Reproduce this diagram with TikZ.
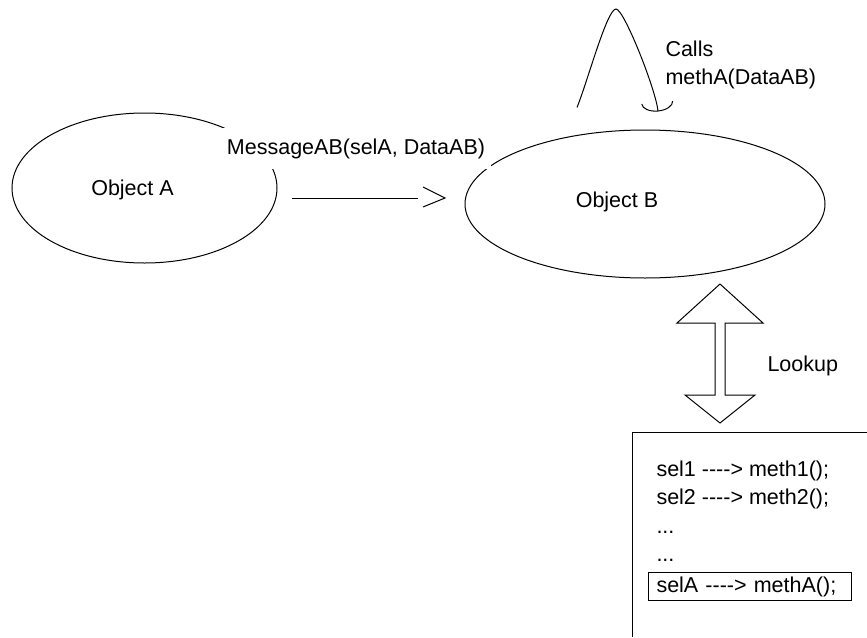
\documentclass[tikz,border=0pt]{standalone}
\usepackage{fontspec}
\setmainfont{Liberation Sans}
\usetikzlibrary{arrows.meta,shapes.geometric}

\begin{document}
\begin{tikzpicture}[x=1pt,y=-1pt,line width=1pt,
    font=\fontsize{21.5}{28.5}\selectfont,
    obj/.style={draw,ellipse,inner sep=0pt},
    txt/.style={inner sep=0pt}]
\useasboundingbox (0,0) rectangle (867,637);

\node[obj,minimum width=265,minimum height=150,
    label={[xshift=-12pt,yshift=-2pt]center:Object A}] (objA) at (144.5,188) {};
\node[obj,minimum width=360,minimum height=148,
    label={[xshift=-28pt,yshift=2pt]center:Object B}] (objB) at (645,204) {};

\node[fill=white,inner xsep=6pt,inner ysep=10pt] (msg) at (356,148.5) {MessageAB(selA, DataAB)};
\coordinate (msgtail) at (292,198);
\coordinate (msgtip) at (445,198);
\draw (msgtail) -- ([xshift=-27pt]msgtip);
\draw ([shift={(-22,-11)}]msgtip) -- (msgtip) -- ([shift={(-22,9)}]msgtip);

\draw[-{Arc Barb[length=9pt,width=32pt]}] ([xshift=-68pt,yshift=22pt]objB.north)
    .. controls (588,80) and (607,9) .. (616,9)
    .. controls (624,9) and (656,90) .. ([xshift=13pt,yshift=18pt]objB.north);
\node[txt,anchor=base west,align=left] (calls) at (665,84.5) {Calls\\methA(DataAB)};

\draw (720,284) -- (763,323) -- (725,323) -- (725,395) -- (755,395) -- (720,423)
    -- (685,395) -- (715,395) -- (715,323) -- (677,323) -- cycle;
\node[txt,anchor=base west] (lookup) at (767,371) {Lookup};

\coordinate (tbl) at (632,432);
\draw (tbl |- 0,637) -- (tbl) -- (867,432);
\node[txt,anchor=base west,align=left] (sels) at (656,561.5)
    {sel1 -{}-{}-{}-> meth1();\\sel2 -{}-{}-{}-> meth2();\\...\\...};
\node[draw,anchor=north west,text width=187pt,inner xsep=8pt,inner ysep=0pt,
    minimum height=28pt,align=left] (selA) at (648,572) {selA -{}-{}-{}-> methA();};
\end{tikzpicture}
\end{document}
